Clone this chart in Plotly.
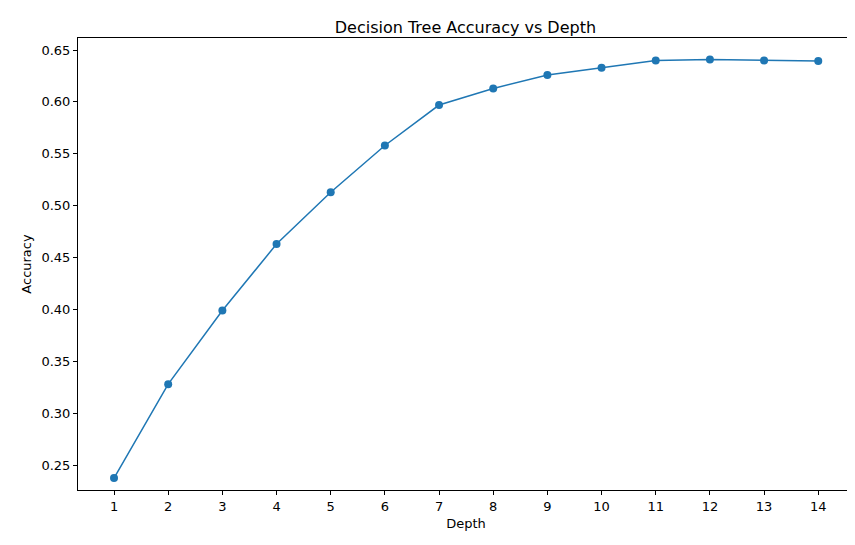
import plotly.graph_objects as go

depths = list(range(1, 15))
accuracy = [0.2375, 0.328, 0.399, 0.463, 0.513, 0.558, 0.597, 0.613, 0.626,
            0.633, 0.640, 0.641, 0.640, 0.6395]
y_ticks = [0.25, 0.30, 0.35, 0.40, 0.45, 0.50, 0.55, 0.60, 0.65]

fig = go.Figure()
fig.add_trace(go.Scatter(
    x=depths, y=accuracy, mode="lines+markers",
    line=dict(color="#1f77b4", width=1.5),
    marker=dict(color="#1f77b4", size=8),
))

axis_style = dict(
    showgrid=False, zeroline=False, showline=True, mirror=True,
    linecolor="black", linewidth=1, ticks="outside", ticklen=4,
    tickcolor="black", tickfont=dict(size=13, color="black"),
    automargin=False,
)
fig.update_xaxes(range=[0.335, 14.66], tickvals=depths, title_text="Depth",
                 title_font=dict(size=13, color="black"), title_standoff=6, **axis_style)
fig.update_yaxes(range=[0.226, 0.6616], tickvals=y_ticks,
                 ticktext=[f"{v:.2f}" for v in y_ticks], title_text="Accuracy",
                 title_font=dict(size=13, color="black"), title_standoff=6, **axis_style)

fig.update_layout(
    width=855, height=545,
    plot_bgcolor="white", paper_bgcolor="white",
    font=dict(family="DejaVu Sans", size=13, color="black"),
    title=dict(text="Decision Tree Accuracy vs Depth", x=0.535, xanchor="center",
               y=0.965, yanchor="middle", font=dict(size=16, color="black")),
    margin=dict(l=70, r=9, t=30, b=63),
    showlegend=False,
)

fig.write_html("out.html")
